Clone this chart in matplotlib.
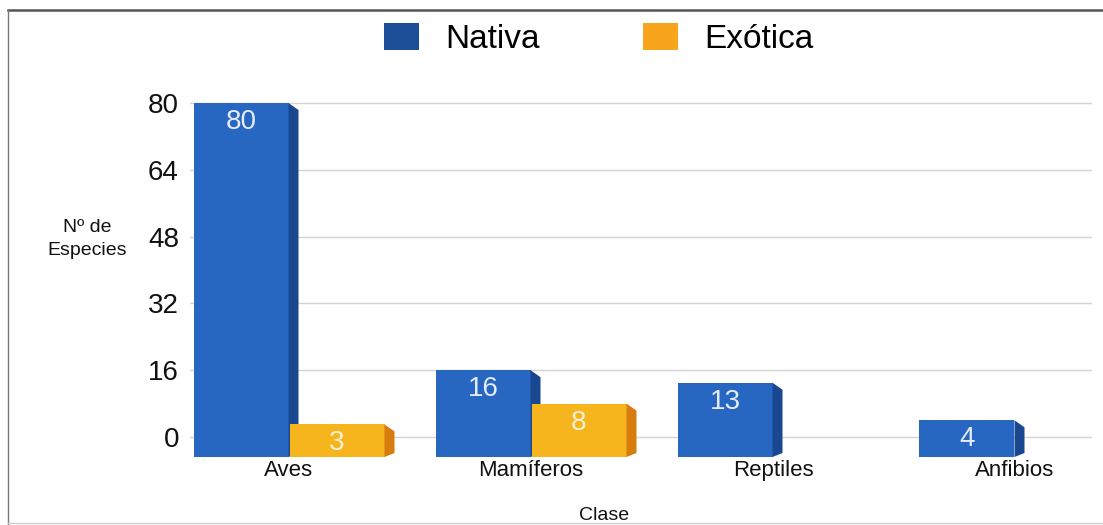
import matplotlib
matplotlib.use("Agg")
import matplotlib.pyplot as plt
from matplotlib.patches import Patch, Polygon
from matplotlib.lines import Line2D
import numpy as np

plt.rcParams['font.family'] = ['Liberation Sans', 'DejaVu Sans']

# Data
categories = ["Aves", "Mamíferos", "Reptiles", "Anfibios"]
nativa = [80, 16, 13, 4]
exotica = [3, 8, None, None]
series_names = ["Nativa", "Exótica"]
yticks = [0, 16, 32, 48, 64, 80]

# Styling
front_colors = ["#2767c1", "#f6b51d"]
side_colors = ["#1a4890", "#d77d10"]
legend_colors = ["#1d4f98", "#f8a51c"]
label_colors = ["#e6ebf7", "#f6f0d6"]

W, H = 1103, 525
fig = plt.figure(figsize=(W / 100, H / 100), dpi=100)
fig.patch.set_facecolor("white")

# axes geometry (pixel layout)
px_per_unit = 4.175
floor = -20 / px_per_unit
ax = fig.add_axes([190 / W, 1 - 457 / H, 902 / W, 372 / H])
ax.set_ylim(floor, floor + 372 / px_per_unit)
ax.set_xlim(-99 / 242, 803 / 242)

x = np.arange(len(categories))
bw = 95 / 242
off = 48 / 242
dx = 10 / 242
dy_top = 7 / px_per_unit
dy_bot = 4 / px_per_unit

for s, (vals, sgn) in enumerate([(nativa, -1), (exotica, 1)]):
    for i, v in enumerate(vals):
        if v is None:
            continue
        cx = x[i] + sgn * off
        ax.bar(cx, v - floor, bottom=floor, width=bw, color=front_colors[s],
               edgecolor="none", zorder=3)
        xr = cx + bw / 2
        side = Polygon([(xr, floor), (xr + dx, floor + dy_bot),
                        (xr + dx, v - dy_top), (xr, v)],
                       closed=True, facecolor=side_colors[s], edgecolor="none",
                       zorder=3)
        ax.add_patch(side)
        ax.annotate(str(v), (cx, v), xytext=(0, -6), textcoords="offset pixels",
                    ha="center", va="top", fontsize=20, color=label_colors[s],
                    zorder=5)

# grid and axes
ax.set_yticks(yticks)
ax.set_yticklabels([str(t) for t in yticks], fontsize=20, color="#111111")
ax.yaxis.grid(True, color="#d4d4d4", lw=1.0)
ax.set_axisbelow(True)
ax.tick_params(axis="y", length=0, pad=8)
ax.set_xticks(x)
ax.set_xticklabels(categories, fontsize=16, color="#111111")
ax.tick_params(axis="x", length=0, pad=2)
for sp in ax.spines.values():
    sp.set_visible(False)

# axis titles
fig.text(87 / W, 1 - 239 / H, "Nº de\nEspecies", ha="center", va="center",
         fontsize=14, linespacing=1.4, color="#111111")
fig.text(604 / W, 1 - 515 / H, "Clase", ha="center", va="center",
         fontsize=14, color="#111111")

# legend
handles = [Patch(facecolor=c, edgecolor="none") for c in legend_colors]
fig.legend(handles, series_names, loc="center", ncol=2,
           bbox_to_anchor=(599 / W, 1 - 39 / H), frameon=False, fontsize=24,
           handlelength=1.03, handleheight=0.85, handletextpad=0.8,
           columnspacing=3.1, borderpad=0)

# outer frame
fig.add_artist(Line2D([8 / W, 1], [1 - 10 / H, 1 - 10 / H], color="#555555",
                      lw=1.8, transform=fig.transFigure))
fig.add_artist(Line2D([8 / W, 8 / W], [0, 1 - 10 / H], color="#777777",
                      lw=1.0, transform=fig.transFigure))
fig.add_artist(Line2D([8 / W, 1], [2 / H, 2 / H], color="#cccccc",
                      lw=1.0, transform=fig.transFigure))

fig.savefig("out.png", dpi=100)
